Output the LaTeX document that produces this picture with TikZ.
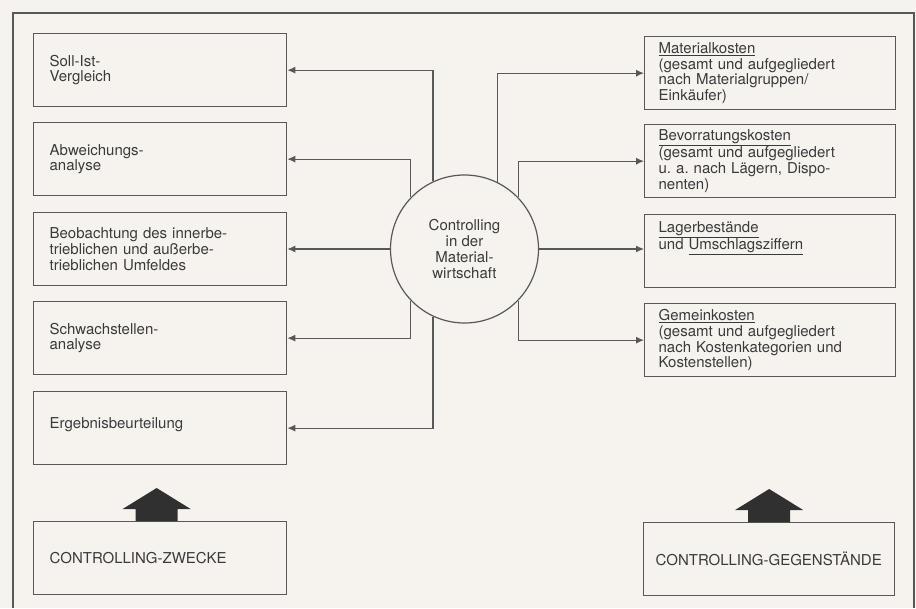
\documentclass[tikz,border=0pt]{standalone}
\usepackage{fontspec}
\setmainfont{TeX Gyre Heros}
\usetikzlibrary{arrows.meta}
\definecolor{paper}{RGB}{246,243,239}
\definecolor{ink}{RGB}{88,88,88}
\definecolor{txt}{RGB}{58,58,58}
\definecolor{blk}{RGB}{48,48,48}
\newcommand{\upblockarrow}[1]{\fill[blk] ([xshift=-21pt]#1) -- ++(0,-12) -- ++(-13,0) -- ++(34,-21) -- ++(34,21) -- ++(-13,0) -- ++(0,12) -- cycle;}
\frenchspacing
\begin{document}
\begin{tikzpicture}[x=1pt,y=-1pt,
  box/.style={draw=ink, line width=1.3pt, rectangle, minimum height=73pt, align=left,
    text=txt, font=\fontsize{15}{15.7}\selectfont\frenchspacing, anchor=north west, inner ysep=0pt},
  lbox/.style={box, text width=221pt, inner xsep=16pt},
  rbox/.style={box, text width=223pt, inner xsep=14pt},
  hub/.style={circle, draw=ink, line width=1.2pt, minimum size=148pt, align=center,
    inner sep=0pt, text=txt, font=\fontsize{15}{15.7}\selectfont},
  conn/.style={draw=ink, line width=1.1pt, -{Latex[length=8pt,width=7pt]}}
]
\useasboundingbox (0,0) rectangle (916,608);
\fill[paper] (0,0) rectangle (916,608);
\draw[ink, line width=1.5pt] (13,608) -- (13,13) -- (914,13) -- (914,608);

% left column
\node[lbox] (b1) at (33,33) {Soll-Ist-\\Vergleich};
\node[lbox] (b2) at (33,122) {Abweichungs-\\analyse};
\node[lbox] (b3) at (33,212) {Beobachtung des innerbe-\\trieblichen und außerbe-\\trieblichen Umfeldes};
\node[lbox] (b4) at (33,301) {Schwachstellen-\\analyse};
\node[lbox] (b5) at (33,391) {Ergebnisbeurteilung\\[-6pt]\mbox{}};
\node[lbox] (z) at (33,521) {CONTROLLING-ZWECKE};

% right column
\node[rbox] (r1) at (644,36) {\underline{Materialkosten}\\(gesamt und aufgegliedert\\nach Materialgruppen/\\Einkäufer)};
\node[rbox] (r2) at (644,124) {\underline{Bevorratungskosten}\\(gesamt und aufgegliedert\\u. a. nach Lägern, Dispo-\\nenten)};
\node[rbox] (r3) at (644,214) {\underline{Lagerbestände}\\und \underline{Umschlagsziffern}\\\mbox{}\\\mbox{}};
\node[rbox] (r4) at (644,303) {\underline{Gemeinkosten}\\(gesamt und aufgegliedert\\nach Kostenkategorien und\\Kostenstellen)};
\node[rbox, inner xsep=12pt, text width=227pt] (g) at (643,522) {CONTROLLING-GEGENSTÄNDE};

% hub
\node[hub] (c) at (464.5,249) {Controlling\\in der\\Material-\\wirtschaft};

% connectors
\draw[conn] (c.115) |- (b1.east);
\draw[conn] (c.136) |- (b2.east);
\draw[conn] (c.west) -- (b3.east |- c.west);
\draw[conn] (c.224) |- (b4.east);
\draw[conn] (c.245) |- (b5.east);
\draw[conn] (c.64) |- (r1.west);
\draw[conn] (c.44) |- (r2.west);
\draw[conn] (c.east) -- (r3.west |- c.east);
\draw[conn] (c.-44) |- (r4.west);

% block arrows
\coordinate (za) at ([xshift=-3.5pt]z.north);
\coordinate (ga) at (g.north);
\upblockarrow{za}
\upblockarrow{ga}
\end{tikzpicture}
\end{document}
